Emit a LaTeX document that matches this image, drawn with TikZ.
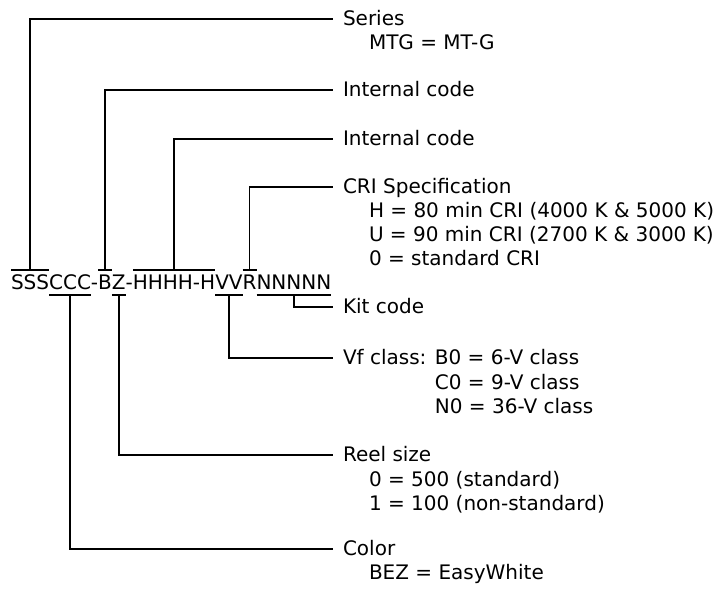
\documentclass[tikz,border=0pt]{standalone}
\usepackage{fontspec}
\setmainfont{DejaVu Sans}
\begin{document}
\begin{tikzpicture}[x=1pt,y=-1pt, line width=1.7pt,
  txt/.style={font=\fontsize{20}{24}\selectfont},
  code/.style={txt, inner sep=0pt, outer sep=0pt, anchor=base west, text height=19pt, text depth=6pt},
  lbl/.style={txt, inner xsep=10pt, inner ysep=0pt, outer sep=0pt, anchor=west, text height=13pt, text depth=0pt},
  sub/.style={txt, inner sep=0pt, outer sep=0pt, anchor=base west},
  conn/.style={line width=1.7pt}]
\useasboundingbox (0,0) rectangle (720,589);
% part number, split in groups
\node[code] (s) at (11,289) {SSS};
\node[code] (c) at (s.base east) {CCC};
\node[code] (d1) at (c.base east) {-};
\node[code] (b) at (d1.base east) {B};
\node[code] (z) at (b.base east) {Z};
\node[code] (d2) at (z.base east) {-};
\node[code] (h) at (d2.base east) {HHHH-H};
\node[code] (v) at (h.base east) {VV};
\node[code] (r) at (v.base east) {R};
\node[code] (n) at (r.base east) {NNNNN};
% labels
\node[lbl] (series) at (333,19) {Series};
\node[sub] (series1) at ([shift={(36pt,-24pt)}]series.base west) {MTG = MT-G};
\node[lbl] (int1) at (333,90) {Internal code};
\node[lbl] (int2) at (333,139) {Internal code};
\node[lbl] (cri) at (333,187) {CRI Specification};
\node[sub] (cri1) at ([shift={(36pt,-24pt)}]cri.base west) {H = 80 min CRI (4000 K \& 5000 K)};
\node[sub] (cri2) at ([shift={(36pt,-48pt)}]cri.base west) {U = 90 min CRI (2700 K \& 3000 K)};
\node[sub] (cri3) at ([shift={(36pt,-72pt)}]cri.base west) {0 = standard CRI};
\node[lbl] (kit) at (333,307) {Kit code};
\node[lbl] (vf) at (333,358) {Vf class: B0 = 6-V class};
\node[sub] (vf1) at ([shift={(10pt,-24.5pt)}]vf.base west) {\hphantom{Vf class: }C0 = 9-V class};
\node[sub] (vf2) at ([shift={(10pt,-49pt)}]vf.base west) {\hphantom{Vf class: }N0 = 36-V class};
\node[lbl] (reel) at (333,455) {Reel size};
\node[sub] (reel1) at ([shift={(36pt,-24.5pt)}]reel.base west) {0 = 500 (standard)};
\node[sub] (reel2) at ([shift={(36pt,-49pt)}]reel.base west) {1 = 100 (non-standard)};
\node[lbl] (color) at (333,549) {Color};
\node[sub] (color1) at ([shift={(36pt,-24pt)}]color.base west) {BEZ = EasyWhite};
% bars over / under the groups
\foreach \g in {s,b,h,r} \draw[conn] (\g.north west) -- (\g.north east);
\foreach \g in {c,z,v,n} \draw[conn] (\g.south west) -- (\g.south east);
% connectors
\draw[conn] (s.north) |- (series.west);
\draw[conn] (b.north) |- (int1.west);
\draw[conn] (h.north) |- (int2.west);
\draw[conn] (r.north) |- (cri.west);
\draw[conn] (n.south) |- (kit.west);
\draw[conn] (v.south) |- (vf.west);
\draw[conn] (z.south) |- (reel.west);
\draw[conn] (c.south) |- (color.west);
\end{tikzpicture}
\end{document}
